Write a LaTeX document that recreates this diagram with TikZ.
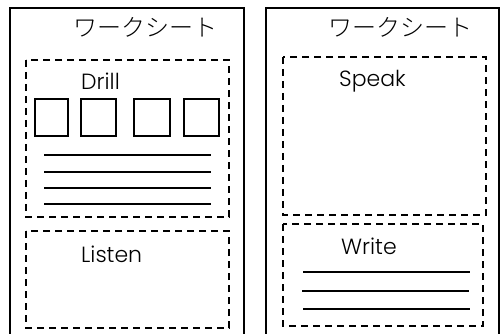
\documentclass[tikz,border=0pt]{standalone}
\usepackage{fontspec}
\setmainfont{Poppins Light}
\newfontfamily\jpfont{Noto Sans CJK JP Light}
\begin{document}
\begin{tikzpicture}[x=1pt,y=-1pt,
  sheet/.style={draw=black,line width=1.4pt},
  zone/.style={draw=black,line width=1.5pt,dash pattern=on 7pt off 5pt},
  cell/.style={draw=black,line width=1.1pt},
  rule/.style={draw=black,line width=1.1pt},
  jtitle/.style={font=\jpfont\fontsize{24}{26}\selectfont,inner sep=0pt,anchor=west},
  label/.style={font=\fontsize{22}{24}\selectfont,inner sep=0pt,anchor=west}]
\useasboundingbox (0,0) rectangle (501,334);
% left sheet
\draw[sheet] (10,340) -- (10,8) -- (244,8) -- (244,340);
\node[jtitle] (t1) at (73,27) {ワークシート};
\draw[zone] (26,60) rectangle (229,217);
\node[label] (drill) at (81,81) {Drill};
\draw[cell] (35,99) rectangle (68,136);
\draw[cell] (81,99) rectangle (116,136);
\draw[cell] (134,99) rectangle (170,136);
\draw[cell] (184,99) rectangle (219,136);
\draw[rule] (44,155) -- (211,155);
\draw[rule] (44,172) -- (211,172);
\draw[rule] (44,188) -- (211,188);
\draw[rule] (44,204) -- (211,204);
\draw[zone] (26,231) rectangle (229,328);
\node[label] (listen) at (81,254) {Listen};
% right sheet
\draw[sheet] (266,340) -- (266,8) -- (499,8) -- (499,340);
\node[jtitle] (t2) at (328,27) {ワークシート};
\draw[zone] (283,57) rectangle (486,215);
\node[label] (speak) at (339,81) {Speak};
\draw[zone] (283,224) rectangle (483,326);
\node[label] (write) at (341,246) {Write};
\draw[rule] (303,272) -- (470,272);
\draw[rule] (302,291) -- (469,291);
\draw[rule] (303,309) -- (470,309);
\end{tikzpicture}
\end{document}
